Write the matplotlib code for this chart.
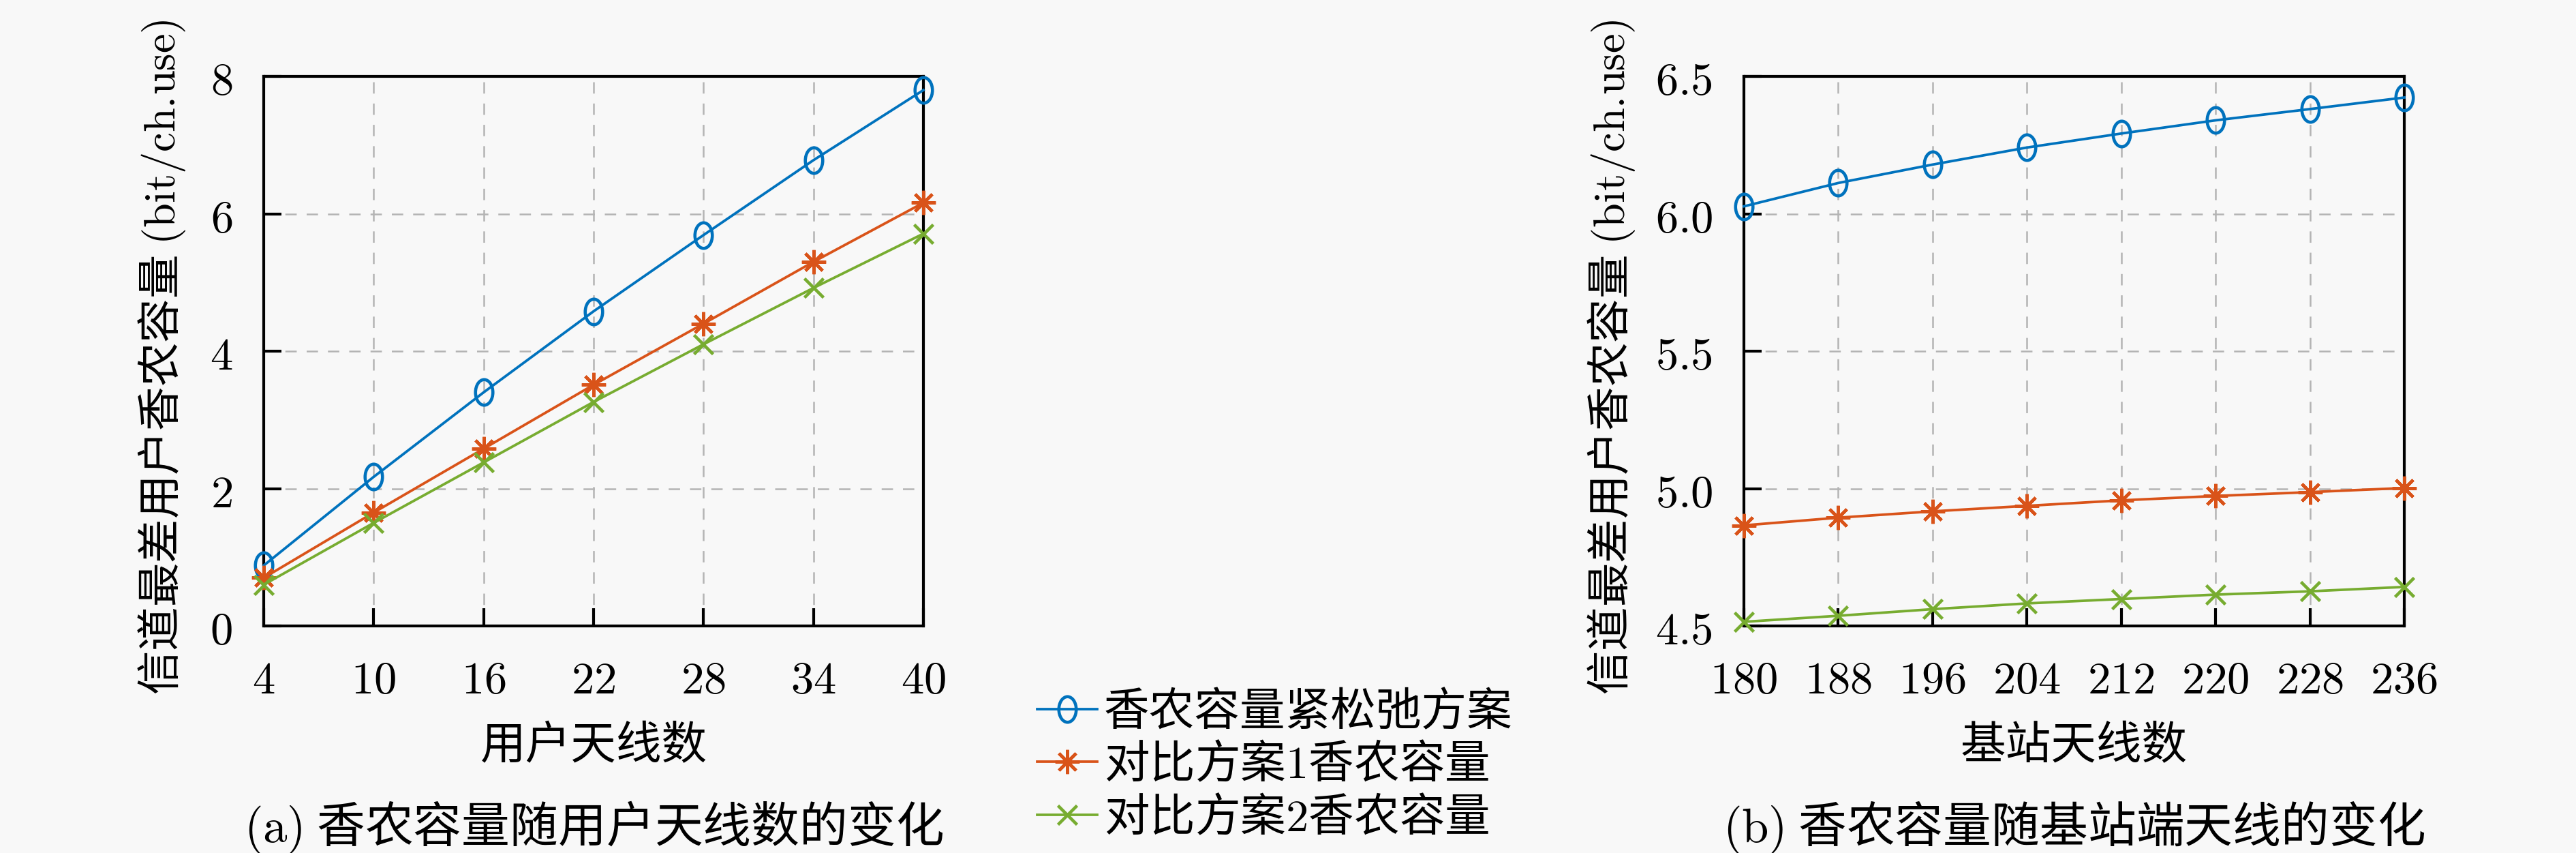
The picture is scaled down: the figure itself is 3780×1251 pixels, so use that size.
import matplotlib
matplotlib.use("Agg")
import matplotlib.pyplot as plt
from matplotlib.path import Path
from matplotlib.transforms import Affine2D

plt.rcParams["font.family"] = ["Noto Sans CJK SC", "DejaVu Sans"]
plt.rcParams["mathtext.fontset"] = "cm"
plt.rcParams["lines.scale_dashes"] = False

# data
users = [4, 10, 16, 22, 28, 34, 40]
relax_a = [0.88, 2.17, 3.40, 4.58, 5.69, 6.78, 7.80]
base1_a = [0.70, 1.65, 2.58, 3.51, 4.40, 5.30, 6.16]
base2_a = [0.60, 1.50, 2.38, 3.26, 4.10, 4.92, 5.71]

bs = [180, 188, 196, 204, 212, 220, 228, 236]
relax_b = [6.027, 6.112, 6.179, 6.241, 6.292, 6.340, 6.381, 6.423]
base1_b = [4.866, 4.894, 4.917, 4.937, 4.957, 4.973, 4.987, 5.002]
base2_b = [4.515, 4.537, 4.561, 4.582, 4.598, 4.614, 4.626, 4.642]

yticks_a = [0, 2, 4, 6, 8]
yticks_b = [4.5, 5.0, 5.5, 6.0, 6.5]

names = ["香农容量紧松弛方案", "对比方案$1$香农容量", "对比方案$2$香农容量"]
colors = ["#0072BD", "#D95319", "#77AC30"]
ylabel = "信道最差用户香农容量 $(\\mathrm{bit/ch}.\\hspace{-0.18}\\mathrm{use})$"

bg = "#f8f8f8"
ellipse = Path.unit_circle().transformed(Affine2D().scale(0.68, 1.0))
markers = [ellipse, (8, 2, 0), "x"]
msizes = [9, 8.5, 6.5]

fig = plt.figure(figsize=(12.6, 1252 / 300), dpi=300, facecolor=bg)
ax1 = fig.add_axes([387 / 3780, 1 - 919 / 1252, 968 / 3780, 806 / 1252])
ax2 = fig.add_axes([2559 / 3780, 1 - 919 / 1252, 969 / 3780, 806 / 1252])


def draw(ax, x, series, yt, xlab, cap, ylab_x):
    ax.set_facecolor(bg)
    for ys, c, m, ms, n in zip(series, colors, markers, msizes, names):
        ax.plot(x, ys, color=c, lw=0.9, marker=m, ms=ms, mfc="none",
                mew=1.1, label=n, clip_on=False, zorder=3)
    ax.set_xlim(x[0], x[-1])
    ax.set_ylim(yt[0], yt[-1])
    ax.set_xticks(x, labels=[f"${v}$" for v in x])
    if isinstance(yt[0], float):
        ax.set_yticks(yt, labels=[f"${v:.1f}$" for v in yt])
    else:
        ax.set_yticks(yt, labels=[f"${v}$" for v in yt])
    ax.tick_params(direction="in", length=6.2, width=1.0, labelsize=16, pad=11)
    ax.grid(True, color="#b4b4b4", lw=0.6, ls=(0, (4, 3.5)))
    for s in ax.spines.values():
        s.set_linewidth(1.0)
    ax.set_xlabel(xlab, fontsize=16)
    ax.xaxis.set_label_coords(0.5, -0.217)
    ax.xaxis.label.set_va("center")
    ax.set_ylabel(ylabel, fontsize=15.5)
    ax.yaxis.set_label_coords(ylab_x, 0.49)
    ax.yaxis.label.set_va("center")
    ax.text(0.5, -0.366, cap, transform=ax.transAxes, ha="center",
            va="center", fontsize=17)


draw(ax1, users, [relax_a, base1_a, base2_a], yticks_a, "用户天线数",
     "$(\\mathrm{a})$ 香农容量随用户天线数的变化", -0.154)
draw(ax2, bs, [relax_b, base1_b, base2_b], yticks_b, "基站天线数",
     "$(\\mathrm{b})$ 香农容量随基站端天线的变化", -0.201)

h, l = ax1.get_legend_handles_labels()
fig.legend(h, l, loc="center left", bbox_to_anchor=(1522 / 3780, 1 - 1123 / 1252),
           frameon=False, fontsize=16, handlelength=1.32, handletextpad=0.15,
           labelspacing=0.15, borderpad=0, borderaxespad=0)

fig.savefig("out.png", dpi=300, facecolor=bg)
